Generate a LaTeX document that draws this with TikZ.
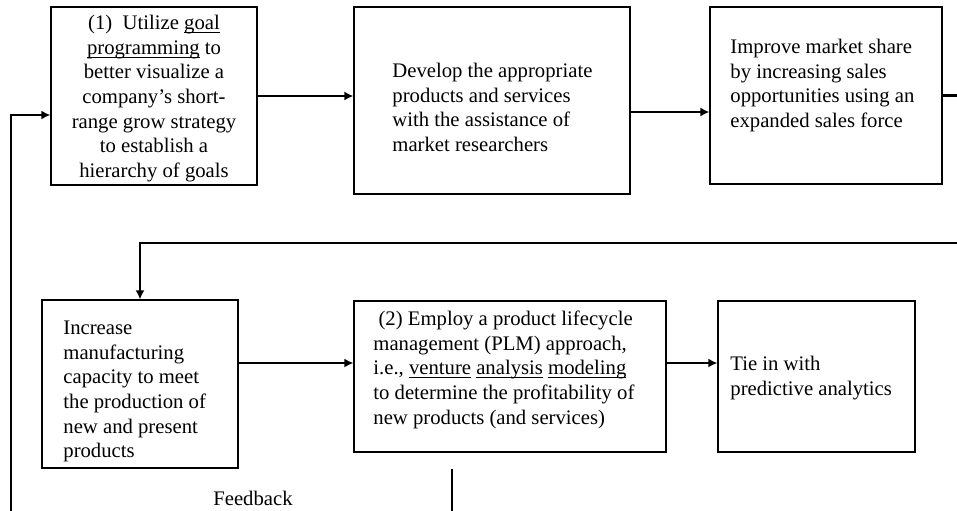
\documentclass[tikz,border=0pt]{standalone}
\usepackage{fontspec}
\setmainfont{Liberation Serif}
\usetikzlibrary{arrows.meta,fit}
\newcommand\myul[1]{\setbox0\hbox{#1}\rlap{\rule[-1.75pt]{\wd0}{0.5pt}}\box0\relax}
\begin{document}
\begin{tikzpicture}[x=0.5pt,y=-0.5pt,
  box/.style={draw, line width=0.6pt, inner sep=0pt, rectangle},
  txt/.style={inner sep=0pt, font=\fontsize{10.35}{12.3}\selectfont},
  conn/.style={line width=1.1pt},
  arr/.style={conn, -{Latex[length=4.5pt,width=4.5pt]}}]
\clip (0,0) rectangle (957,510);
% boxes
\node[box, fit={(51,7)(257,185)}] (b1) {};
\node[box, fit={(354,7)(630,194)}] (b2) {};
\node[box, fit={(710,7)(942,184)}] (b3) {};
\node[box, fit={(42,300)(238,468)}] (b4) {};
\node[box, fit={(354,301)(666,452)}] (b5) {};
\node[box, fit={(718,301)(915,452)}] (b6) {};
% texts
\node[txt, align=center, anchor=north] (t1) at (154,12) {\strut(1)\ \ Utilize \myul{goal}\\ \myul{programming} to\\ better visualize a\\ company’s short-\\ range grow strategy\\ to establish a\\ hierarchy of goals};
\node[txt, align=left, anchor=north west] (t2) at (392,60) {\strut Develop the appropriate\\products and services\\with the assistance of\\market researchers};
\node[txt, align=left, anchor=north west] (t3) at (730,36) {\strut Improve market share\\by increasing sales\\opportunities using an\\expanded sales force};
\node[txt, align=left, anchor=north west] (t4) at (63,317) {\strut Increase\\manufacturing\\capacity to meet\\the production of\\new and present\\products};
\node[txt, align=left, anchor=north west] (t5) at (373,308) {\strut\hspace*{2.6pt}(2) Employ a product lifecycle\\management (PLM) approach,\\i.e., \myul{venture} \myul{analysis} \myul{modeling}\\to determine the profitability of\\new products (and services)};
\node[txt, align=left, anchor=north west] (t6) at (730,353) {\strut Tie in with\\predictive analytics};
\node[txt, anchor=base] (fbl) at (253,505) {Feedback};
% helper coordinates
\coordinate (y112) at (0,112);
\coordinate (y363) at (0,363);
\coordinate (y115) at (0,115);
\coordinate (rt) at (977,95.5);
\coordinate (c1) at (140,243);
\coordinate (fbl0) at (11,530);
\coordinate (fbm0) at (452,469);
\coordinate (fbm1) at (452,530);
% connectors
\draw[arr] (b1.east) -- (b1.east -| b2.west);
\draw[arr] (b2.east |- y112) -- (b3.west |- y112);
\draw[arr] (b3.east) -- (rt) |- (c1) -- (c1 |- b4.north);
\draw[arr] (b4.east |- y363) -- (b5.west |- y363);
\draw[arr] (b5.east |- y363) -- (b6.west |- y363);
\draw[arr] (fbl0) |- (b1.west |- y115);
\draw[conn] (fbm0) -- (fbm1);
\end{tikzpicture}
\end{document}
